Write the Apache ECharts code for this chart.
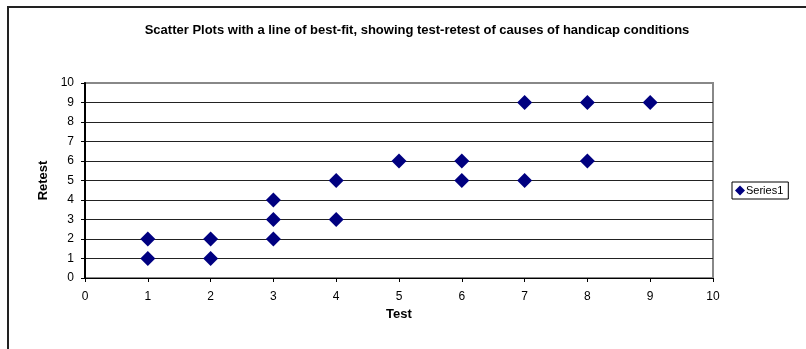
<!DOCTYPE html>
<html>
<head>
<meta charset="utf-8">
<script src="https://cdn.jsdelivr.net/npm/echarts@6/dist/echarts.min.js"></script>
<style>
  html, body { margin: 0; padding: 0; background: #fff; }
  #chart { width: 806px; height: 349px; }
</style>
</head>
<body>
<div id="chart"></div>
<script>
// Test / retest scores for causes of handicap conditions
const testScores   = [1, 1, 2, 2, 3, 3, 3, 4, 4, 5, 6, 6, 7, 7, 8, 8, 9];
const retestScores = [1, 2, 1, 2, 2, 3, 4, 3, 5, 6, 5, 6, 5, 9, 6, 9, 9];
const seriesName = 'Series1';
const titleText = 'Scatter Plots with a line of best-fit, showing test-retest of causes of handicap conditions';
const xAxisName = 'Test';
const yAxisName = 'Retest';

const points = testScores.map((t, i) => [t, retestScores[i]]);

const chart = echarts.init(document.getElementById('chart'), null, { renderer: 'canvas' });
const font = 'Arial, "Liberation Sans", sans-serif';

chart.setOption({
  animation: false,
  backgroundColor: '#fff',
  title: {
    text: titleText,
    left: 412,
    textAlign: 'center',
    top: 19,
    textStyle: { fontFamily: font, fontSize: 13, fontWeight: 'bold', color: '#000' }
  },
  graphic: [
    {
      type: 'rect',
      shape: { x: 8, y: 7, width: 900, height: 400 },
      style: { fill: 'none', stroke: '#222', lineWidth: 2 },
      silent: true
    }
  ],
  legend: {
    data: [{ name: seriesName, icon: 'diamond' }],
    left: 732,
    top: 182,
    orient: 'vertical',
    itemWidth: 10,
    itemHeight: 10,
    itemGap: 4,
    padding: [3, 5, 3, 3],
    borderColor: '#000',
    borderWidth: 1,
    textStyle: { fontFamily: font, fontSize: 11, color: '#000', padding: [0, 0, 0, -4] }
  },
  grid: {
    left: 85,
    right: 93,
    top: 83,
    bottom: 71,
    show: true,
    borderColor: '#888',
    borderWidth: 2,
    backgroundColor: '#fff'
  },
  xAxis: {
    type: 'value',
    min: 0,
    max: 10,
    interval: 1,
    name: xAxisName,
    nameLocation: 'middle',
    nameGap: 30,
    nameTextStyle: { fontFamily: font, fontSize: 13, fontWeight: 'bold', color: '#000' },
    axisLine: { show: true, onZero: false, lineStyle: { color: '#000', width: 1 } },
    axisTick: { show: true, length: 4, lineStyle: { color: '#000' } },
    axisLabel: { fontFamily: font, fontSize: 12, color: '#000', margin: 13 },
    splitLine: { show: false }
  },
  yAxis: {
    type: 'value',
    min: 0,
    max: 10,
    interval: 1,
    name: yAxisName,
    nameLocation: 'middle',
    nameGap: 34,
    nameRotate: 90,
    nameTextStyle: { fontFamily: font, fontSize: 13, fontWeight: 'bold', color: '#000' },
    axisLine: { show: true, onZero: false, lineStyle: { color: '#000', width: 2 } },
    axisTick: { show: true, length: 4, lineStyle: { color: '#000' } },
    axisLabel: { fontFamily: font, fontSize: 12, color: '#000', margin: 11 },
    splitLine: { show: true, showMaxLine: false, showMinLine: false, lineStyle: { color: '#222', width: 1 } }
  },
  series: [
    {
      name: seriesName,
      type: 'scatter',
      data: points,
      symbol: 'diamond',
      symbolSize: 15,
      itemStyle: { color: '#000080', opacity: 1 },
      z: 5
    }
  ]
});
</script>
</body>
</html>
